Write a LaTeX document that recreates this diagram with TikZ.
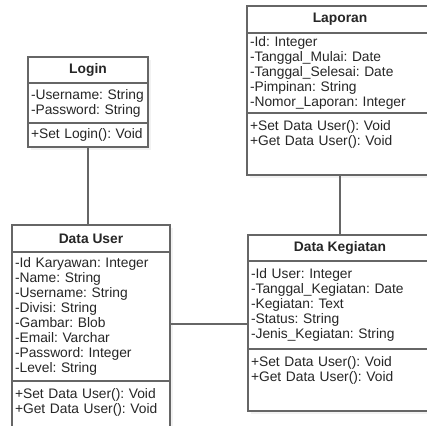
\documentclass[tikz,border=0pt]{standalone}
\usepackage{fontspec}
\setmainfont{Liberation Sans}
\usetikzlibrary{positioning, shadows}

\begin{document}
\begin{tikzpicture}[x=1pt, y=-1pt,
  every node/.style={outer sep=0pt},
  classbox/.style={draw=black!60, line width=1.2pt, fill=white, anchor=north west,
                   drop shadow={shadow xshift=3pt, shadow yshift=-3pt, opacity=0.1, fill=black!50}},
  headbox/.style={draw=black!60, line width=1.2pt, anchor=north, inner sep=0pt,
                  text=black!85, font=\fontsize{13.8}{15}\selectfont\frenchspacing\bfseries},
  attrbox/.style={draw=black!60, line width=1.2pt, anchor=north west, align=left,
                  inner xsep=3pt, inner ysep=0pt, text=black!85,
                  font=\fontsize{13.8}{15}\selectfont\frenchspacing},
  opsbox/.style={attrbox, draw=none, inner ysep=7pt},
  link/.style={draw=black!60, line width=1.2pt}
]
  \useasboundingbox (0,0) rectangle (427,425);
  \clip (0,0) rectangle (427,425);

  % Login
  \node[classbox, minimum width=120pt, minimum height=90pt] (login) at (28,57) {};
  \node[headbox, minimum width=120pt, minimum height=26pt] (logintitle) at (login.north) {Login};
  \node[attrbox, text width=114pt, minimum height=40pt] (loginattr) at (logintitle.south west)
    {-Username: String\\-Password: String};
  \node[attrbox, text width=114pt, minimum height=24pt] (loginops) at (loginattr.south west)
    {+Set Login(): Void};

  % Data User
  \node[classbox, minimum width=158pt, minimum height=215pt] (user) at (12,225) {};
  \node[headbox, minimum width=158pt, minimum height=27pt] (usertitle) at (user.north) {Data User};
  \node[attrbox, text width=152pt, minimum height=129pt] (userattr) at (usertitle.south west)
    {-Id Karyawan: Integer\\-Name: String\\-Username: String\\-Divisi: String\\
     -Gambar: Blob\\-Email: Varchar\\-Password: Integer\\-Level: String};
  \node[opsbox, text width=152pt] (userops) at (userattr.south west)
    {+Set Data User(): Void\\+Get Data User(): Void};

  % Laporan
  \node[classbox, minimum width=186pt, minimum height=169pt] (laporan) at (247,6) {};
  \node[headbox, minimum width=186pt, minimum height=27pt] (laporantitle) at (laporan.north) {Laporan};
  \node[attrbox, text width=180pt, minimum height=80pt] (laporanattr) at (laporantitle.south west)
    {-Id: Integer\\-Tanggal\_Mulai: Date\\-Tanggal\_Selesai: Date\\-Pimpinan: String\\
     -Nomor\_Laporan: Integer};
  \node[opsbox, text width=180pt] (laporanops) at (laporanattr.south west)
    {+Set Data User(): Void\\+Get Data User(): Void};

  % Data Kegiatan
  \node[classbox, minimum width=184pt, minimum height=176pt] (kegiatan) at (248,235) {};
  \node[headbox, minimum width=184pt, minimum height=26pt] (kegiatantitle) at (kegiatan.north) {Data Kegiatan};
  \node[attrbox, text width=178pt, minimum height=88pt] (kegiatanattr) at (kegiatantitle.south west)
    {-Id User: Integer\\-Tanggal\_Kegiatan: Date\\-Kegiatan: Text\\-Status: String\\
     -Jenis\_Kegiatan: String};
  \node[opsbox, text width=178pt] (kegiatanops) at (kegiatanattr.south west)
    {+Set Data User(): Void\\+Get Data User(): Void};

  \draw[link] (login.south) -- (login.south |- user.north);
  \draw[link] (laporan.south) -- (kegiatan.north);
  \draw[link] ([yshift=-7.5pt]userattr.east) -- ([yshift=-7.5pt]userattr.east -| kegiatan.west);
\end{tikzpicture}
\end{document}
